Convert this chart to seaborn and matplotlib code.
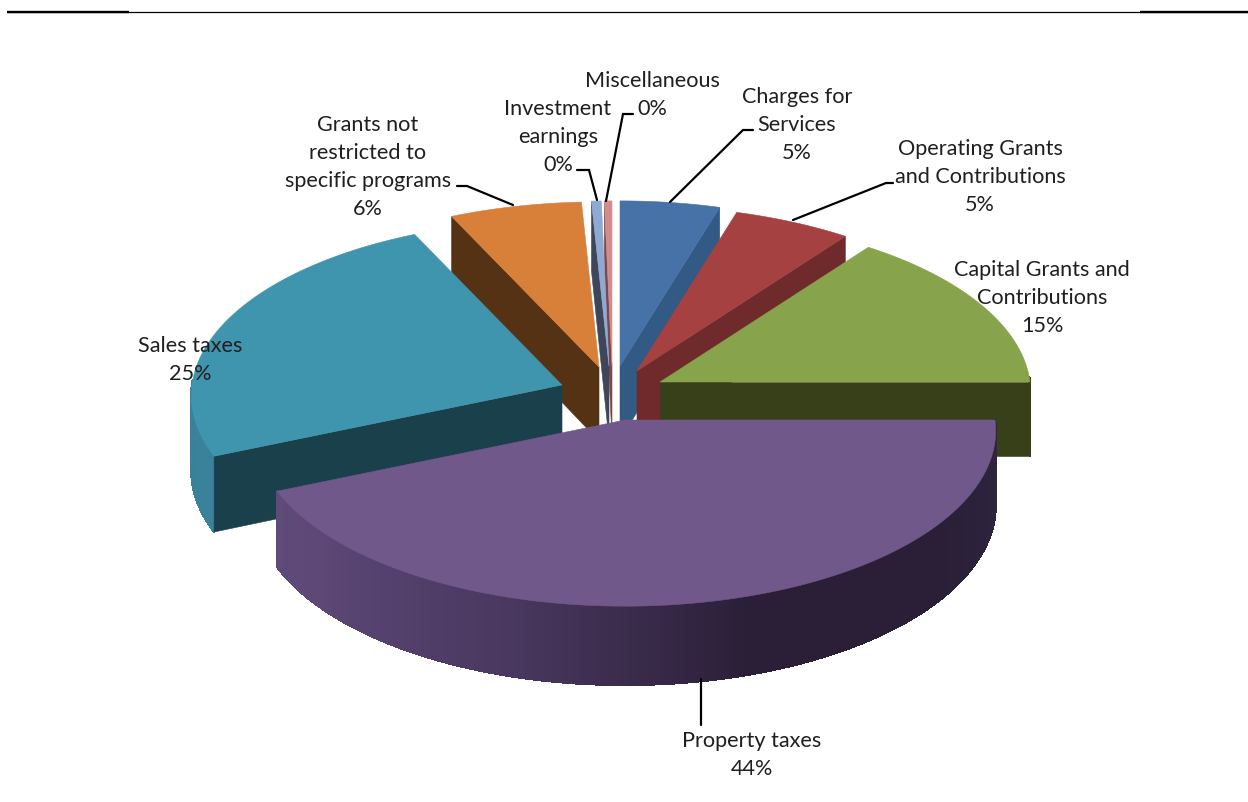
"""Exploded 3D style pie of revenue sources, drawn slice by slice."""

import numpy as np
import matplotlib
matplotlib.use("Agg")
import matplotlib.pyplot as plt
import seaborn as sns

# slice shares, clockwise from 12 o'clock
categories = ["Charges for\nServices", "Operating Grants\nand Contributions",
              "Capital Grants and\nContributions", "Property taxes", "Sales taxes",
              "Grants not\nrestricted to\nspecific programs", "Investment\nearnings",
              "Miscellaneous"]
values = [4.6, 5.45, 14.95, 43.5, 24.6, 6.1, 0.45, 0.35]

top_colors = ["#4672a8", "#a54140", "#87a34c", "#71588a", "#4095ae", "#d87f3a", "#8fa9d3", "#d18c8b"]
cut_colors = ["#335a85", "#6f2a2b", "#374019", "#3a2c4c", "#1a404c", "#553214", "#3d4759", "#7a4a4a"]
wall_ramps = [["#335a85"] * 2, ["#6f2a2b"] * 2, ["#374019"] * 2,
              ["#62507f", "#5d4876", "#4a3860", "#2a1f37", "#2a1f37", "#302640"],
              ["#3a8198", "#3c8aa2"], ["#553214"] * 2, ["#3d4759"] * 2, ["#7a4a4a"] * 2]

# where each slice's tip sits after exploding, image pixels
tips = [(620, 367), (637, 372), (660, 383), (625, 421), (562, 386), (599, 368), (609, 367), (612, 367)]
RX, RY, PERSP, DEPTH = 370, 175, 0.06, 74

# centre of each label and the label's leader line
label_pos = [(797, 125), (980, 177), (1042, 298), (752, 755), (190, 360), (368, 167), (558, 137), (652, 95)]
leaders = [
    [(670, 203), (743, 131), (753, 131)],
    [(793, 221), (886, 184), (893, 184)],
    None,
    [(701, 680), (701, 726)],
    None,
    [(513, 206), (467, 187), (457, 187)],
    [(597, 201), (589, 171), (577, 171)],
    [(606, 202), (623, 115), (633, 115)],
]
draw_order = [7, 6, 0, 5, 1, 2, 4, 3]


def project(tip, theta, down=0.0):
    # theta in radians, clockwise from the back of the disc
    u, v = np.sin(theta), np.cos(theta)
    s = 1 / (1 + PERSP * v)
    return tip[0] + RX * u * s, tip[1] - RY * v * s + DEPTH * s * down


sns.set_theme(style="white")
plt.rcParams["font.family"] = ["Lato", "DejaVu Sans"]

fig = plt.figure(figsize=(12.48, 8.03), dpi=100)
ax = fig.add_axes([0, 0, 1, 1])
ax.set_xlim(0, 1248)
ax.set_ylim(803, 0)
ax.set_axis_off()

# rule across the top of the page
ax.plot([7, 1248], [13, 13], color="black", lw=0.9)
ax.plot([7, 129], [13, 13], color="black", lw=1.7, solid_capstyle="butt")
ax.plot([1140, 1248], [13, 13], color="black", lw=1.7, solid_capstyle="butt")

edges = np.radians(np.concatenate([[0], np.cumsum(values)]) * 3.6)

for i in draw_order:
    t0, t1 = edges[i], edges[i + 1]
    tip = tips[i]
    thetas = np.linspace(t0, t1, max(int((t1 - t0) * 200), 4))

    # outer wall, shaded strip by strip where it faces the viewer
    ramp = sns.blend_palette(wall_ramps[i], 256)
    for a, b in zip(thetas[:-1], thetas[1:]):
        if np.cos((a + b) / 2) > 0.03:
            continue
        frac = ((a + b) / 2 - np.pi / 2) / np.pi
        shade = ramp[int(np.clip(1 - frac, 0, 1) * 255)]
        qx, qy = zip(project(tip, a), project(tip, b), project(tip, b, 1), project(tip, a, 1))
        ax.fill(qx, qy, color=shade, lw=1.0, antialiased=False)

    # radial cut faces
    for theta, show in ((t0, np.sin(t0) < -1e-6), (t1, np.sin(t1) > 1e-6)):
        if show:
            cx, cy = project(tip, theta)
            bx, by = project(tip, theta, 1)
            ax.fill([tip[0], cx, bx, tip[0]], [tip[1], cy, by, tip[1] + DEPTH],
                    color=cut_colors[i], lw=0.4)

    # top face
    arc = [project(tip, t) for t in thetas]
    xs = [tip[0]] + [p[0] for p in arc]
    ys = [tip[1]] + [p[1] for p in arc]
    ax.fill(xs, ys, color=top_colors[i], lw=0.4)

for name, val, pos, line in zip(categories, values, label_pos, leaders):
    if line is not None:
        lx, ly = zip(*line)
        ax.plot(lx, ly, color="black", lw=1.6, solid_joinstyle="miter")
    ax.text(pos[0], pos[1], f"{name}\n{int(val + 0.5)}%", ha="center", va="center",
            fontsize=15.6, color="#1f1f1f", linespacing=1.51)

fig.savefig("out.png", dpi=100)
